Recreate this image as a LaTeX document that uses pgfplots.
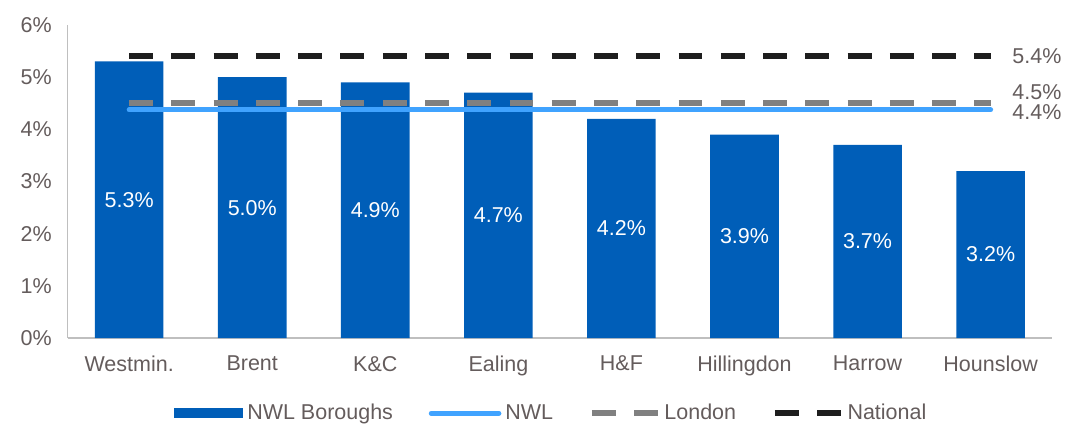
\documentclass[border=0pt]{standalone}
\usepackage{pgfplots}
\pgfplotsset{compat=1.18}
\usepackage{fontspec}
\setmainfont{Liberation Sans}
\definecolor{NWLBar}{RGB}{0,94,184}
\definecolor{NWLLine}{RGB}{64,163,255}
\definecolor{LondonGrey}{RGB}{128,128,128}
\definecolor{NatBlack}{RGB}{30,30,30}
\definecolor{TxtGrey}{RGB}{100,92,92}
\definecolor{AxGrey}{RGB}{191,191,191}

\begin{document}
\begin{tikzpicture}
\begin{axis}[
	scale only axis,
	width=495pt,
	height=157.5pt,
	xmin=-0.5, xmax=7.5,
	ymin=0, ymax=6,
	xtick={0,...,7},
	xticklabels={Westmin.,Brent,K\&C,Ealing,H\&F,Hillingdon,Harrow,Hounslow},
	ytick={0,...,6},
	yticklabels={0\%,1\%,2\%,3\%,4\%,5\%,6\%},
	major tick length=0pt,
	axis x line*=bottom,
	axis y line*=left,
	axis line style={AxGrey, line width=0.8pt},
	tick label style={font=\fontsize{10.8}{13}\selectfont, text=TxtGrey},
	xticklabel style={yshift=-5.5pt},
	yticklabel style={xshift=-4.5pt},
	/pgf/number format/assume math mode=true,
	clip=false,
	legend columns=4,
	legend style={draw=none, fill=none, at={(0.492,-0.24)}, anchor=center,
		font=\fontsize{10.8}{13}\selectfont, text=TxtGrey,
		/tikz/every even column/.append style={column sep=16pt}},
	legend cell align=left,
]
\addplot[ybar, bar width=34.5pt, draw=none, fill=NWLBar,
	visualization depends on={y \as \rawy},
	nodes near coords={\pgfmathprintnumber[fixed,fixed zerofill,precision=1]{\pgfplotspointmeta}\%},
	every node near coord/.append style={anchor=center, text=white,
		font=\fontsize{10.8}{13}\selectfont,
		shift={(axis direction cs:0,-\rawy/2)}},
	legend image code/.code={\fill[NWLBar] (0pt,-2.5pt) rectangle (35pt,2.5pt);}]
	coordinates {(0,5.3) (1,5.0) (2,4.9) (3,4.7) (4,4.2) (5,3.9) (6,3.7) (7,3.2)};
\addlegendentry{NWL Boroughs}
\addplot[NWLLine, line width=2.5pt, line cap=round,
	legend image code/.code={\draw[NWLLine, line width=2.5pt, line cap=round] (1pt,0pt) -- (35pt,0pt);}]
	coordinates {(0,4.37) (7,4.37)};
\addlegendentry{NWL}
\addplot[LondonGrey, line width=3pt, dash pattern=on 12pt off 9.25pt,
	legend image code/.code={\draw[LondonGrey, line width=3pt, dash pattern=on 12pt off 9.25pt] (0pt,0pt) -- (33pt,0pt);}]
	coordinates {(0,4.5) (7,4.5)};
\addlegendentry{London}
\addplot[NatBlack, line width=3pt, dash pattern=on 12pt off 9.25pt,
	legend image code/.code={\draw[NatBlack, line width=3pt, dash pattern=on 12pt off 9.25pt] (0pt,0pt) -- (33pt,0pt);}]
	coordinates {(0,5.4) (7,5.4)};
\addlegendentry{National}
\node[anchor=west, text=TxtGrey, font=\fontsize{10.8}{13}\selectfont] at (axis cs:7.12,5.4) {5.4\%};
\node[anchor=west, text=TxtGrey, font=\fontsize{10.8}{13}\selectfont] at (axis cs:7.12,4.72) {4.5\%};
\node[anchor=west, text=TxtGrey, font=\fontsize{10.8}{13}\selectfont] at (axis cs:7.12,4.32) {4.4\%};
\path (rel axis cs:-0.0687,-0.2635) rectangle (rel axis cs:1.0101,1.0794);
\end{axis}
\end{tikzpicture}
\end{document}
